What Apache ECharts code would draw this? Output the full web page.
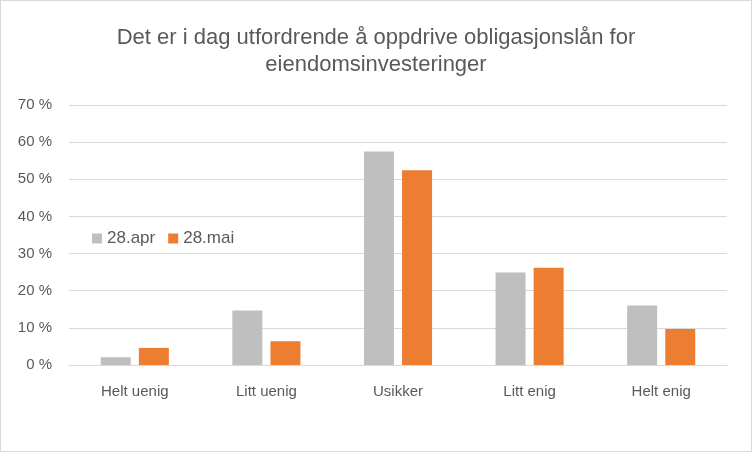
<!DOCTYPE html>
<html>
<head>
<meta charset="utf-8">
<script src="https://cdn.jsdelivr.net/npm/echarts@6/dist/echarts.min.js"></script>
<style>
html,body{margin:0;padding:0;background:#fff;}
#c{width:752px;height:452px;box-sizing:border-box;border:1px solid #D9D9D9;}
</style>
</head>
<body>
<div id="c"></div>
<script>
var titleText = 'Det er i dag utfordrende å oppdrive obligasjonslån for\neiendomsinvesteringer';
var categories = ['Helt uenig', 'Litt uenig', 'Usikker', 'Litt enig', 'Helt enig'];
var seriesNames = ['28.apr', '28.mai'];
var aprValues = [2.1, 14.7, 57.5, 24.9, 16.0];
var maiValues = [4.6, 6.4, 52.4, 26.2, 9.7];
var yMin = 0, yMax = 70, yStep = 10;

var chart = echarts.init(document.getElementById('c'), null, {renderer: 'canvas'});
var font = 'Liberation Sans';
chart.setOption({
  animation: false,
  backgroundColor: '#fff',
  title: {
    text: titleText,
    left: 'center',
    top: 23,
    padding: 0,
    textStyle: {fontFamily: font, fontSize: 22, fontWeight: 'normal', color: '#595959', lineHeight: 27}
  },
  legend: {
    data: seriesNames,
    left: 91,
    top: 229,
    padding: 0,
    orient: 'horizontal',
    icon: 'rect',
    itemWidth: 10,
    itemHeight: 10,
    itemGap: 13,
    textStyle: {fontFamily: font, fontSize: 17, color: '#595959'}
  },
  grid: {left: 68, right: 24, top: 104, bottom: 86, containLabel: false},
  xAxis: {
    type: 'category',
    data: categories,
    axisLine: {lineStyle: {color: '#D9D9D9', width: 1}},
    axisTick: {show: false},
    axisLabel: {fontFamily: font, fontSize: 15, color: '#595959', margin: 19}
  },
  yAxis: {
    type: 'value',
    min: yMin, max: yMax, interval: yStep,
    axisLine: {show: false},
    axisTick: {show: false},
    splitLine: {lineStyle: {color: '#D9D9D9', width: 1}},
    axisLabel: {fontFamily: font, fontSize: 15, color: '#595959', margin: 17,
      formatter: function (v) { return v + ' %'; }}
  },
  series: [
    {name: seriesNames[0], type: 'bar', data: aprValues, barWidth: 30, barGap: '27%',
     itemStyle: {color: '#BFBFBF'}},
    {name: seriesNames[1], type: 'bar', data: maiValues, barWidth: 30, barGap: '27%',
     itemStyle: {color: '#ED7D31'}}
  ]
});
</script>
</body>
</html>
